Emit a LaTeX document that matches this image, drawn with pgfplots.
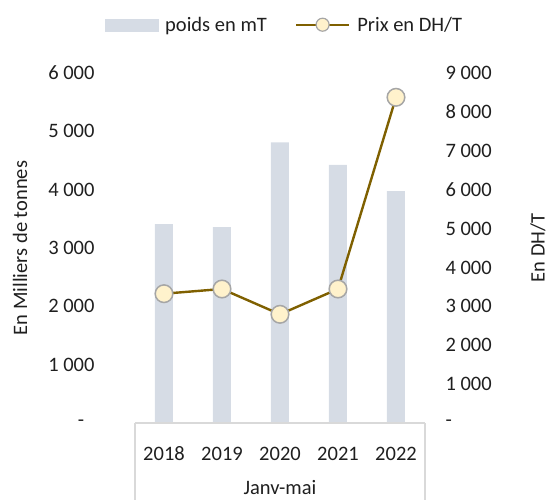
\documentclass[border=0pt]{standalone}
\usepackage{pgfplots}
\pgfplotsset{compat=1.18}
\usepackage{fontspec}
\setmainfont{Carlito}
\definecolor{barc}{HTML}{D6DCE5}
\definecolor{linec}{HTML}{7F6000}
\definecolor{mfill}{HTML}{FFF2CC}
\definecolor{medge}{HTML}{A6A6A6}
\definecolor{boxc}{HTML}{D9D9D9}
\newcommand{\fs}{\fontsize{20.5}{24}\selectfont}
\pgfplotsset{
  base/.style={
    at={(135pt,76pt)}, anchor=south west,
    scale only axis, width=290pt, height=350pt,
    xmin=-0.5, xmax=4.5,
    axis line style={draw=none},
    major tick length=0pt,
    tick style={draw=none},
    tick label style={font=\fs, text=black!88},
    label style={font=\fs, text=black!88},
    clip=false,
  }
}
\begin{document}
\begin{tikzpicture}
\path[use as bounding box] (0pt,0pt) rectangle (549pt,499pt);
\begin{axis}[base,
  ymin=0, ymax=6000,
  xtick={0,1,2,3,4},
  xticklabels={2018,2019,2020,2021,2022},
  xticklabel style={anchor=base, yshift=-37.5pt},
  ytick={0,1000,2000,3000,4000,5000,6000},
  yticklabels={{-\hphantom{0}},{1 000},{2 000},{3 000},{4 000},{5 000},{6 000}},
  yticklabel style={anchor=east, xshift=-37pt},
  ylabel={En Milliers de tonnes},
  ylabel style={at={([xshift=-115pt]axis description cs:0,0.5)}, anchor=center},
  xlabel={Janv-mai},
  xlabel style={at={([yshift=-71.5pt]axis description cs:0.5,0)}, anchor=base},
]
\addplot[ybar, bar width=18pt, fill=barc, draw=none] coordinates {(0,3411) (1,3360) (2,4812) (3,4423) (4,3977)};
\draw[boxc, line width=1.2pt] (axis cs:-0.5,0) -- (axis cs:4.5,0);
\draw[boxc, line width=1.2pt] (axis cs:-0.5,0) -- ++(0pt,-90pt);
\draw[boxc, line width=1.2pt] (axis cs:4.5,0) -- ++(0pt,-90pt);
\end{axis}
\begin{axis}[base,
  ymin=0, ymax=9000,
  hide x axis,
  axis y line*=right,
  ytick={0,1000,2000,3000,4000,5000,6000,7000,8000,9000},
  yticklabels={-,{1 000},{2 000},{3 000},{4 000},{5 000},{6 000},{7 000},{8 000},{9 000}},
  yticklabel style={anchor=west, xshift=17pt},
  ylabel={En DH/T},
  ylabel style={at={([xshift=113pt]axis description cs:1,0.5)}, anchor=center, rotate=0},
  legend columns=2,
  legend style={draw=none, fill=none, font=\fs, text=black!88,
    at={(axis description cs:0.5155,1.138)}, anchor=center,
    /tikz/every odd column/.append style={column sep=5pt},
    /tikz/every even column/.append style={column sep=26pt}},
]
\addlegendimage{legend image code/.code={\fill[barc] (0pt,-6pt) rectangle (53pt,6pt);}}
\addlegendentry{poids en mT}
\addplot[linec, line width=2.4pt, mark=*, mark size=8.8pt,
  mark options={fill=mfill, draw=medge, line width=1.5pt},
  legend image code/.code={\draw[linec, line width=2.4pt, mark=*, mark size=6.5pt, mark options={fill=mfill, draw=medge, line width=1.2pt}, mark repeat=2, mark phase=2] plot coordinates {(0pt,0pt) (26.5pt,0pt) (53pt,0pt)};}]
  coordinates {(0,3325) (1,3446) (2,2795) (3,3446) (4,8375)};
\addlegendentry{Prix en DH/T}
\end{axis}
\end{tikzpicture}
\end{document}
